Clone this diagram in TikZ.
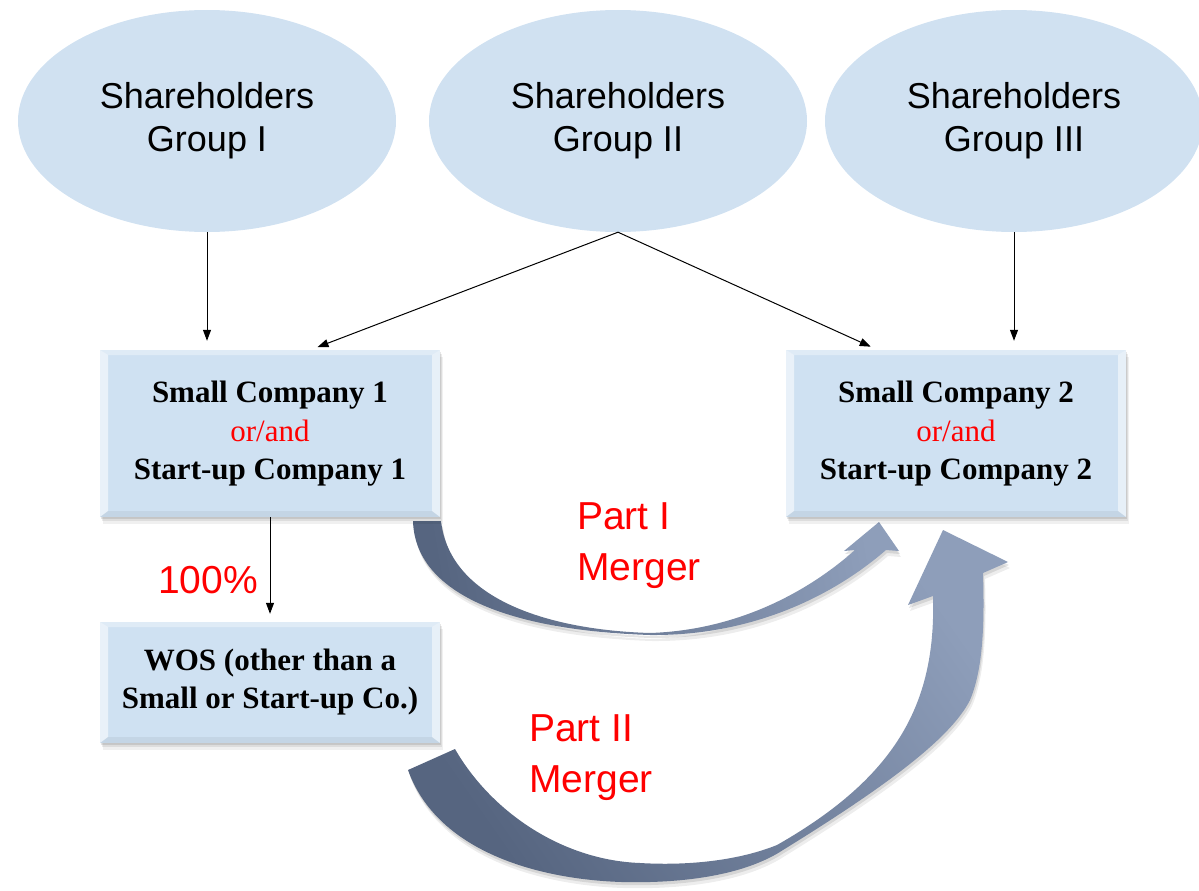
\documentclass[tikz,border=0pt]{standalone}
\usepackage{fontspec}
\setmainfont{Liberation Serif}
\setsansfont{Liberation Sans}
\usetikzlibrary{shapes.geometric,arrows.meta,shadows}

\definecolor{ellfill}{RGB}{208,225,241}
\definecolor{boxfill}{RGB}{207,225,242}
\definecolor{arrowdark}{RGB}{86,101,128}
\definecolor{arrowlight}{RGB}{142,158,186}

\tikzset{
  holder/.style={ellipse, fill=ellfill, minimum width=378pt, minimum height=222pt,
    inner sep=0pt, align=center, font=\sffamily\fontsize{36}{43}\selectfont},
  softshadow/.style={
    general shadow={shadow xshift=1pt, shadow yshift=-2pt, fill=black, opacity=0.10},
    general shadow={shadow xshift=2pt, shadow yshift=-4pt, fill=black, opacity=0.08},
    general shadow={shadow xshift=3pt, shadow yshift=-7pt, fill=black, opacity=0.06}},
  compbox/.style={rectangle, fill=boxfill, minimum width=340pt, inner sep=0pt,
    align=center, font=\bfseries\fontsize{31}{38}\selectfont, softshadow,
    path picture={
      \fill[white,opacity=0.55] (path picture bounding box.south west)
        -- (path picture bounding box.north west)
        -- ([shift={(8pt,-5pt)}]path picture bounding box.north west)
        -- ([shift={(8pt,6pt)}]path picture bounding box.south west) -- cycle;
      \fill[white,opacity=0.5] (path picture bounding box.south east)
        -- (path picture bounding box.north east)
        -- ([shift={(-8pt,-5pt)}]path picture bounding box.north east)
        -- ([shift={(-8pt,6pt)}]path picture bounding box.south east) -- cycle;
      \fill[white,opacity=0.35] (path picture bounding box.north west)
        -- (path picture bounding box.north east)
        -- ([shift={(-8pt,-5pt)}]path picture bounding box.north east)
        -- ([shift={(8pt,-5pt)}]path picture bounding box.north west) -- cycle;
      \fill[black,opacity=0.05] (path picture bounding box.south west)
        -- (path picture bounding box.south east)
        -- ([shift={(-8pt,6pt)}]path picture bounding box.south east)
        -- ([shift={(8pt,6pt)}]path picture bounding box.south west) -- cycle;
    }},
  link/.style={draw=black, line width=1pt, -{Triangle[length=11pt,width=8pt]}},
  redlab/.style={text=red, font=\sffamily\fontsize{39}{51}\selectfont, align=left,
    inner sep=0pt},
  mergearrow/.style={left color=arrowdark, right color=arrowlight,
    preaction={fill=black, opacity=0.10, transform canvas={shift={(1pt,-3pt)}}},
    preaction={fill=black, opacity=0.07, transform canvas={shift={(2pt,-6pt)}}}},
}

\begin{document}
\begin{tikzpicture}[x=1pt,y=-1pt]
  \useasboundingbox (0,0) rectangle (1199,891);
  \clip (0,0) rectangle (1199,891);

  % curved merger arrows (drawn first, boxes sit on top)
  \path[mergearrow, shading angle=100] (413,521)
    .. controls (415,590) and (500,630) .. (650,635)
    .. controls (760,636) and (840,590) .. (886,550)
    -- (899,551) -- (879,522) -- (844,551) -- (855,550)
    .. controls (810,590) and (740,630) .. (650,633)
    .. controls (550,630) and (450,600) .. (441,521) -- cycle;

  \path[mergearrow, shading angle=125] (408,770)
    .. controls (440,860) and (560,885) .. (650,882)
    .. controls (720,880) and (760,865) .. (783,850)
    .. controls (880,790) and (950,740) .. (970,700)
    .. controls (985,665) and (984,610) .. (983,573)
    -- (1008,562) -- (943,530) -- (908,605) -- (933,596)
    .. controls (936,700) and (900,775) .. (777,845)
    .. controls (740,860) and (690,866) .. (640,863)
    .. controls (560,860) and (490,810) .. (455,749) -- cycle;

  % shareholder groups
  \node[holder] (g1) at (207,121) {Shareholders\\Group I};
  \node[holder] (g2) at (618,121) {Shareholders\\Group II};
  \node[holder] (g3) at (1014,121) {Shareholders\\Group III};

  % companies
  \node[compbox, minimum height=167pt] (b1) at (270,433.5)
    {Small Company 1\\[1pt]{\mdseries\color{red}or/and}\\Start-up Company 1};
  \node[compbox, minimum height=167pt] (b2) at (956,433.5)
    {Small Company 2\\[1pt]{\mdseries\color{red}or/and}\\Start-up Company 2};
  \node[compbox, minimum height=121pt] (wos) at (270,682.5)
    {WOS (other than a\\Small or Start-up Co.)};

  % ownership links
  \coordinate (b1in) at (310,350);
  \coordinate (b2in) at (878,350);
  \draw[link, shorten >=9pt] (g1.south) -- (g1.south |- b1.north);
  \draw[link, shorten >=9pt] (g3.south) -- (g3.south |- b2.north);
  \draw[link, shorten >=8pt] (g2.south) -- (b1in);
  \draw[link, shorten >=8pt] (g2.south) -- (b2in);
  \draw[link, shorten >=8pt] (b1.south) -- (wos.north);

  % labels
  \node[redlab] (pct) at (208,580) {100\%};
  \node[redlab, anchor=west] (m1) at (577,546) {Part I\\Merger};
  \node[redlab, anchor=west] (m2) at (529,758) {Part II\\Merger};
\end{tikzpicture}
\end{document}
